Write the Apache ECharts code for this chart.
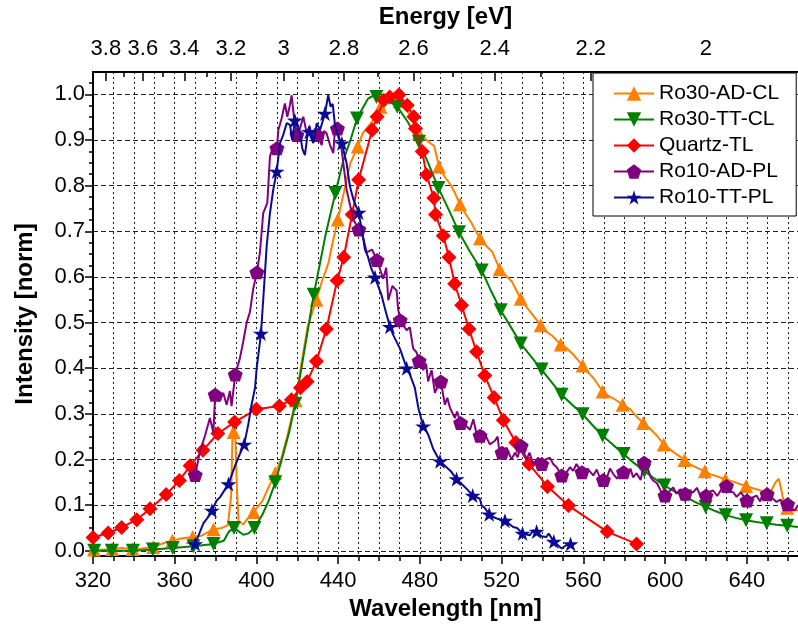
<!DOCTYPE html>
<html>
<head>
<meta charset="utf-8">
<script src="https://cdn.jsdelivr.net/npm/echarts@6/dist/echarts.min.js"></script>
<style>
  html, body { margin: 0; padding: 0; background: #fff; }
  #chart { width: 798px; height: 627px; }
</style>
</head>
<body>
<div id="chart"></div>
<script>
// axis ranges / ticks
const xMin = 320
const xMax = 665
const yMin = -0.0115
const yMax = 1.049
const wavelengthTicks = [320, 360, 400, 440, 480, 520, 560, 600, 640]
const energyMajor = [3.8, 3.6, 3.4, 3.2, 3.0, 2.8, 2.6, 2.4, 2.2, 2.0]
const energyMinor = [3.7, 3.5, 3.3, 3.1, 2.9, 2.7, 2.5, 2.3, 2.1, 1.9]
const yTicks = [0, 0.1, 0.2, 0.3, 0.4, 0.5, 0.6, 0.7, 0.8, 0.9, 1.0]

const names = ['Ro30-AD-CL', 'Ro30-TT-CL', 'Quartz-TL', 'Ro10-AD-PL', 'Ro10-TT-PL']
const colors = ['#ff8000', '#008000', '#ff0000', '#800080', '#0a0a96']

// Ro30-AD-CL : marker points and the noisy line between them [nm, intensity]
const ro30adMarks = [[320.5,0.003],[329.4,0.004],[339.4,0.004],[349.5,0.008],[358.8,0.022],[368.8,0.03],[379,0.047],[388.8,0.26],[398.6,0.085],[409.2,0.17],[419.2,0.33],[429.3,0.55],[439.8,0.726],[449.6,0.886],[460.7,0.973],[470,0.985],[479.5,0.915],[489.3,0.842],[499.6,0.759],[509.4,0.685],[519,0.617],[529.3,0.552],[539.1,0.494],[548.9,0.452],[559.6,0.406],[569.4,0.349],[579.2,0.32],[589.3,0.28],[599.3,0.233],[609.5,0.199],[619.4,0.174],[629.5,0.156],[639.6,0.142],[649.8,0.127],[659.7,0.094]]
const ro30adLine = [[324,0.002],[334,0.006],[344,0.005],[354,0.016],[363,0.027],[373,0.033],[383,0.05],[386,0.056],[387.6,0.12],[388.2,0.24],[389.6,0.255],[390.4,0.14],[391.2,0.065],[393.5,0.058],[396,0.072],[403,0.11],[406,0.14],[412,0.2],[415,0.25],[422,0.41],[425,0.49],[432,0.59],[435.3,0.632],[437,0.67],[443,0.79],[446,0.85],[452,0.915],[456.6,0.94],[464.8,0.994],[466.5,1.0],[474,0.963],[476.5,0.945],[482,0.905],[484.4,0.895],[487,0.887],[492,0.82],[495,0.802],[497,0.785],[502,0.74],[505,0.72],[507,0.703],[512,0.67],[515.4,0.655],[517,0.638],[522,0.603],[525,0.59],[532,0.535],[535,0.518],[542,0.48],[545,0.47],[552,0.443],[555,0.43],[562,0.392],[565,0.378],[572,0.34],[575,0.333],[583,0.31],[586,0.294],[592,0.27],[596,0.252],[603,0.22],[606,0.21],[612,0.19],[616,0.181],[622,0.168],[626,0.162],[633,0.152],[636,0.147],[643,0.137],[646,0.133],[652,0.132],[654,0.15],[655.6,0.158],[657,0.13],[658.4,0.097],[662,0.092],[665,0.088]]

// Ro30-TT-CL
const ro30ttMarks = [[320.6,0.0],[329.2,0.0],[339.5,0.0],[349.3,0.003],[359,0.006],[369.2,0.01],[379,0.015],[389,0.05],[399,0.05],[409.2,0.15],[419,0.322],[428,0.561],[438.6,0.784],[449.2,0.947],[458.7,0.994],[468.9,0.973],[479.5,0.896],[489,0.795],[499.1,0.698],[510.2,0.614],[519.5,0.527],[529.3,0.454],[539.5,0.397],[549.3,0.342],[559.6,0.299],[569.4,0.252],[579.7,0.212],[589.8,0.175],[599.6,0.143],[609.8,0.119],[619.8,0.096],[629.6,0.078],[639.6,0.067],[649.7,0.06],[659.7,0.055]]
const ro30ttLine = [[384,0.022],[386.5,0.042],[393.6,0.035],[396,0.038],[403,0.08],[406,0.11],[413,0.21],[416,0.26],[422,0.4],[425,0.48],[431.3,0.635],[433.7,0.69],[442.5,0.855],[446,0.9],[452,0.97],[454.5,0.99],[456.6,0.996],[463,0.99],[474,0.94],[484,0.85],[494,0.748],[504.5,0.655],[514.5,0.572],[524.5,0.49],[534.5,0.425],[544.5,0.369],[554.5,0.32],[564.5,0.275],[574.5,0.232],[584.5,0.193],[594.5,0.159],[604.5,0.13],[614.5,0.107],[624.5,0.087],[634.5,0.072],[644.5,0.063],[654.5,0.057],[665,0.052]]

// Quartz-TL (smooth, markers only)
const quartzMarks = [[320,0.029],[327.4,0.039],[334,0.051],[341.4,0.068],[347.9,0.092],[355.8,0.123],[362.3,0.154],[367.5,0.186],[373.8,0.22],[381.1,0.257],[389.3,0.282],[399.9,0.31],[411.2,0.317],[417.1,0.331],[421.5,0.357],[424.8,0.371],[429.3,0.415],[434.2,0.486],[439.5,0.592],[442.7,0.643],[446.8,0.737],[450,0.813],[456.6,0.922],[459,0.951],[462.3,0.987],[465.2,0.994],[469.7,0.999],[473.8,0.976],[477,0.951],[477.8,0.925],[481.1,0.875],[483.2,0.824],[486.8,0.773],[487.6,0.737],[491.4,0.69],[494.2,0.643],[497,0.585],[500.4,0.538],[504,0.486],[507.7,0.436],[511.7,0.384],[516.3,0.336],[520.8,0.286],[526.9,0.237],[533.4,0.19],[542.4,0.141],[552.7,0.099],[571.6,0.042],[586,0.015]]
const quartzLine = []

// Ro10-AD-PL
const ro10adMarks = [[370,0.166],[379.8,0.342],[389.6,0.386],[400.2,0.61],[410,0.882],[419.8,0.911],[429.8,0.911],[439.6,0.925],[450.1,0.704],[459,0.637],[470.3,0.505],[479.6,0.416],[490.2,0.371],[499.9,0.28],[509.4,0.252],[520.2,0.215],[529.5,0.23],[539.6,0.19],[549.4,0.165],[559.3,0.172],[569.8,0.155],[579.6,0.172],[589.7,0.193],[599.9,0.121],[609.8,0.125],[620,0.121],[630,0.142],[640,0.11],[649.9,0.124],[659.9,0.102]]
const ro10adLine = [[372.4,0.219],[374.8,0.252],[377.2,0.291],[378.9,0.259],[382.1,0.328],[383.7,0.346],[385.4,0.32],[387,0.35],[387.8,0.317],[391.9,0.422],[393.5,0.458],[395.2,0.5],[396.8,0.523],[398.4,0.574],[401.7,0.654],[403.3,0.74],[405.3,0.762],[406.6,0.864],[408.2,0.886],[410.7,0.922],[412.3,0.947],[413.9,0.98],[415.1,0.951],[416.3,0.975],[417.2,0.998],[418.3,0.951],[421.3,0.925],[422.9,0.951],[424.6,0.915],[426,0.93],[427.2,0.905],[428.6,0.925],[431.9,0.889],[433.1,0.92],[434.3,0.915],[436,0.889],[437.6,0.871],[438.5,0.93],[441.7,0.878],[444.1,0.791],[447.4,0.726],[452,0.69],[453.9,0.654],[456.5,0.66],[462,0.596],[463.5,0.62],[464.5,0.549],[466.5,0.58],[468.6,0.57],[469.3,0.53],[473.5,0.483],[475,0.49],[476.7,0.443],[478.3,0.435],[481.6,0.396],[483,0.41],[484,0.371],[485.7,0.396],[487.3,0.346],[488.7,0.36],[492.2,0.32],[493.4,0.335],[494.7,0.313],[497.1,0.291],[498.2,0.305],[502.8,0.273],[504.5,0.265],[506.1,0.288],[507.5,0.26],[511,0.262],[512.6,0.248],[514.2,0.233],[516.7,0.241],[518,0.25],[519.1,0.208],[522.4,0.226],[524.8,0.2],[526.5,0.215],[527.8,0.205],[532.2,0.2],[533.6,0.215],[535.4,0.19],[537.9,0.204],[541.5,0.2],[543.6,0.204],[545.2,0.19],[546.9,0.183],[551.5,0.17],[553.4,0.183],[555,0.175],[556.6,0.19],[558,0.18],[562,0.18],[564.8,0.165],[566.5,0.178],[568,0.16],[571.5,0.16],[573,0.18],[574.6,0.168],[576.5,0.158],[578,0.17],[581.5,0.165],[583,0.18],[584.3,0.161],[586,0.17],[588,0.155],[591.5,0.18],[593,0.16],[594.1,0.154],[596,0.148],[598,0.13],[602,0.13],[603.9,0.139],[605.5,0.125],[607.5,0.135],[611.5,0.13],[613.7,0.128],[615.5,0.138],[617.5,0.118],[622,0.13],[623.5,0.132],[625.5,0.12],[627.5,0.135],[632,0.13],[633.3,0.128],[635,0.118],[637,0.128],[642,0.115],[644.7,0.121],[646.5,0.108],[648,0.13],[651.5,0.12],[653,0.113],[654.5,0.107],[656.5,0.112],[658,0.098],[661.5,0.09],[663.4,0.088],[665,0.1]]

// Ro10-TT-PL
const ro10ttMarks = [[370,0.015],[378.2,0.088],[386.3,0.146],[394,0.233],[402.2,0.476],[409.9,0.831],[418.8,0.943],[425.8,0.918],[433.5,0.958],[441.8,0.893],[450,0.741],[458,0.599],[465.3,0.491],[473.5,0.4],[481.6,0.273],[489.8,0.196],[497.9,0.157],[505.8,0.121],[513.9,0.08],[521.6,0.066],[530.2,0.038],[537.1,0.042],[545.5,0.02],[553.7,0.015]]
const ro10ttLine = [[374,0.06],[376.4,0.074],[380.5,0.11],[382.1,0.117],[388.6,0.175],[391.1,0.204],[396,0.277],[397.6,0.32],[399.3,0.357],[400.1,0.4],[403.3,0.55],[405,0.668],[406.6,0.74],[408.2,0.791],[411.5,0.893],[413,0.91],[414.8,0.937],[416.4,0.933],[417.5,0.9],[421.3,0.915],[422.5,0.88],[423.7,0.867],[425.3,0.922],[427.8,0.893],[429.5,0.937],[431.1,0.922],[435.1,0.998],[436.3,0.973],[437.3,0.979],[438.4,0.933],[440.5,0.9],[444.1,0.849],[445.7,0.799],[447.4,0.77],[451.5,0.704],[453.1,0.66],[454.5,0.645],[456.3,0.617],[461.2,0.56],[462.9,0.53],[466.9,0.473],[470.2,0.443],[475.1,0.386],[477.5,0.357],[479.2,0.313],[484,0.255],[486.5,0.223],[493,0.183],[495,0.175],[499.5,0.15],[502.8,0.136],[509.3,0.114],[510.2,0.099],[511.5,0.095],[515.9,0.074],[518,0.07],[525.6,0.052],[527.5,0.05],[533.8,0.034],[535.5,0.045],[539.5,0.032],[541.9,0.03],[543,0.038],[549.3,0.005],[551.5,0.012]]

const FONT = '"Liberation Sans", Arial, sans-serif'
const HC = 1239.84 // eV*nm
const toNm = e => HC / e

const pentagon = 'path://M0,-1L0.951,-0.309L0.588,0.809L-0.588,0.809L-0.951,-0.309Z'
const star = 'path://M0,-1L0.2245,-0.309L0.951,-0.309L0.363,0.118L0.588,0.809L0,0.382L-0.588,0.809L-0.363,0.118L-0.951,-0.309L-0.2245,-0.309Z'

// marker points carry the symbol, line-only points do not
function buildData (marks, line) {
  let pts = marks.map(p => ({ value: p }))
    .concat(line.map(p => ({ value: p, symbol: 'none' })))
  pts.sort((a, b) => a.value[0] - b.value[0])
  return pts
}

const minorWave = []
for (let v = xMin + 10; v < xMax; v += 10) minorWave.push(v)
const yMinorTicks = []
for (let i = 0; i <= 41; i++) yMinorTicks.push(+(i * 0.025).toFixed(3))

function makeSeries (i, marks, line, symbol, size, rotate) {
  return {
    name: names[i],
    type: 'line',
    xAxisIndex: 0,
    yAxisIndex: 0,
    data: buildData(marks, line),
    symbol: symbol,
    symbolSize: size,
    symbolRotate: rotate || 0,
    showSymbol: true,
    showAllSymbol: true,
    lineStyle: { color: colors[i], width: 2 },
    itemStyle: { color: colors[i] },
    z: 2 + i
  }
}

const axisLineStyle = { color: '#000', width: 2 }
const tickStyle = { color: '#000', width: 1.5 }

let chart = echarts.init(document.getElementById('chart'), null, { renderer: 'canvas' })
chart.setOption({
  animation: false,
  backgroundColor: '#fff',
  textStyle: { fontFamily: FONT },
  grid: { left: 93, right: 0, top: 68, bottom: 71 },
  legend: {
    orient: 'vertical',
    left: 593,
    top: 73,
    padding: [10, 17, 8, 20],
    itemWidth: 40,
    itemHeight: 18,
    itemGap: 5,
    backgroundColor: '#fff',
    borderColor: '#000',
    borderWidth: 1,
    textStyle: { fontSize: 21, color: '#000', fontFamily: FONT },
    data: names
  },
  xAxis: [
    {
      type: 'value', position: 'bottom', min: xMin, max: xMax,
      axisLine: { onZero: false, lineStyle: axisLineStyle },
      axisTick: { customValues: wavelengthTicks, length: 8, lineStyle: tickStyle },
      axisLabel: { customValues: wavelengthTicks, color: '#000', fontSize: 22, fontFamily: FONT, margin: 14 },
      splitLine: { show: false },
      name: 'Wavelength [nm]', nameLocation: 'middle', nameGap: 40,
      nameTextStyle: { fontWeight: 'bold', fontSize: 24, color: '#000', fontFamily: FONT }
    },
    {
      type: 'value', position: 'bottom', min: xMin, max: xMax,
      axisLine: { show: false, onZero: false },
      axisTick: { customValues: minorWave, length: 5, lineStyle: tickStyle },
      axisLabel: { show: false },
      splitLine: { show: true, lineStyle: { color: '#222', type: [2, 3], width: 1 } }
    },
    {
      type: 'value', position: 'top', min: xMin, max: xMax,
      axisLine: { onZero: false, lineStyle: axisLineStyle },
      axisTick: { inside: true, customValues: energyMajor.map(toNm), length: 9, lineStyle: tickStyle },
      axisLabel: {
        customValues: energyMajor.map(toNm), color: '#000', fontSize: 22, fontFamily: FONT, margin: 12,
        formatter: v => String(+(HC / v).toFixed(1))
      },
      splitLine: { show: false },
      name: 'Energy [eV]', nameLocation: 'middle', nameGap: 43,
      nameTextStyle: { fontWeight: 'bold', fontSize: 24, color: '#000', fontFamily: FONT }
    },
    {
      type: 'value', position: 'top', min: xMin, max: xMax,
      axisLine: { show: false, onZero: false },
      axisTick: { inside: true, customValues: energyMinor.map(toNm), length: 5, lineStyle: tickStyle },
      axisLabel: { show: false },
      splitLine: { show: false }
    }
  ],
  yAxis: [
    {
      type: 'value', position: 'left', min: yMin, max: yMax,
      axisLine: { show: true, onZero: false, lineStyle: axisLineStyle },
      axisTick: { customValues: yTicks, length: 8, lineStyle: tickStyle },
      axisLabel: { customValues: yTicks, color: '#000', fontSize: 22, fontFamily: FONT, margin: 8, formatter: v => v.toFixed(1) },
      splitLine: { show: true, lineStyle: { color: '#222', type: [5, 3], width: 1 } },
      name: 'Intensity [norm]', nameLocation: 'middle', nameGap: 56,
      nameTextStyle: { fontWeight: 'bold', fontSize: 24, color: '#000', fontFamily: FONT }
    },
    {
      type: 'value', position: 'left', min: yMin, max: yMax,
      axisLine: { show: false, onZero: false },
      axisTick: { customValues: yMinorTicks, length: 4, lineStyle: tickStyle },
      axisLabel: { show: false },
      splitLine: { show: false }
    }
  ],
  series: [
    makeSeries(0, ro30adMarks, ro30adLine, 'triangle', 14),
    makeSeries(1, ro30ttMarks, ro30ttLine, 'triangle', 14, 180),
    makeSeries(2, quartzMarks, quartzLine, 'diamond', 15),
    makeSeries(3, ro10adMarks, ro10adLine, pentagon, [15, 14]),
    makeSeries(4, ro10ttMarks, ro10ttLine, star, [16, 15])
  ]
})

window.addEventListener('resize', function () {
  chart.resize()
})
</script>
</body>
</html>
